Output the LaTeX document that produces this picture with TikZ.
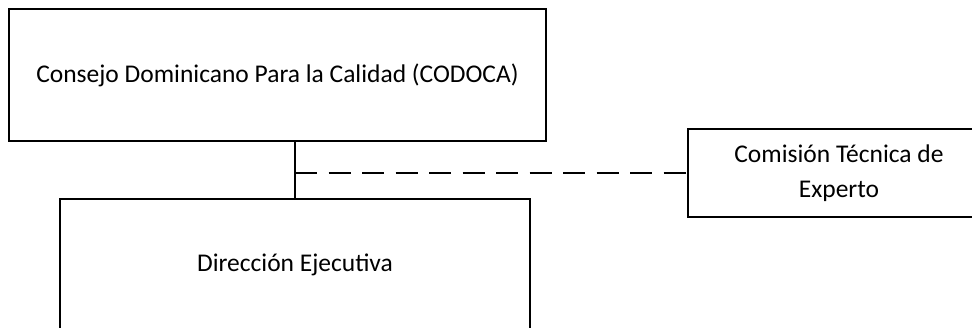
\documentclass[tikz,border=0pt]{standalone}
\usepackage{fontspec}
\setmainfont{Carlito}
\begin{document}
\begin{tikzpicture}[x=1pt,y=-1pt,
  box/.style={draw=black,line width=2.5pt,fill=white,rectangle,inner sep=0pt,align=center,
    font=\fontsize{25.5}{35}\selectfont},
  conn/.style={draw=black,line width=2.5pt},
  dashconn/.style={conn,dash pattern=on 22pt off 11.5pt}]
\useasboundingbox (0,0) rectangle (972,328);
\clip (0,0) rectangle (972,328);
\fill[white] (0,0) rectangle (972,328);
\node[box,minimum width=537pt,minimum height=132pt] (b1) at (277.5,75) {Consejo Dominicano Para la Calidad (CODOCA)};
\node[box,minimum width=470pt,minimum height=132pt] (b2) at (295,265) {Dirección Ejecutiva};
\node[box,minimum width=302pt,minimum height=88pt] (b3) at (839,173) {Comisión Técnica de\\Experto};
\coordinate (j) at (b2.north |- b3.west);
\draw[conn] (b2.north) -- (b2.north |- b1.south);
\draw[dashconn] (j) -- (b3.west);
\end{tikzpicture}
\end{document}
